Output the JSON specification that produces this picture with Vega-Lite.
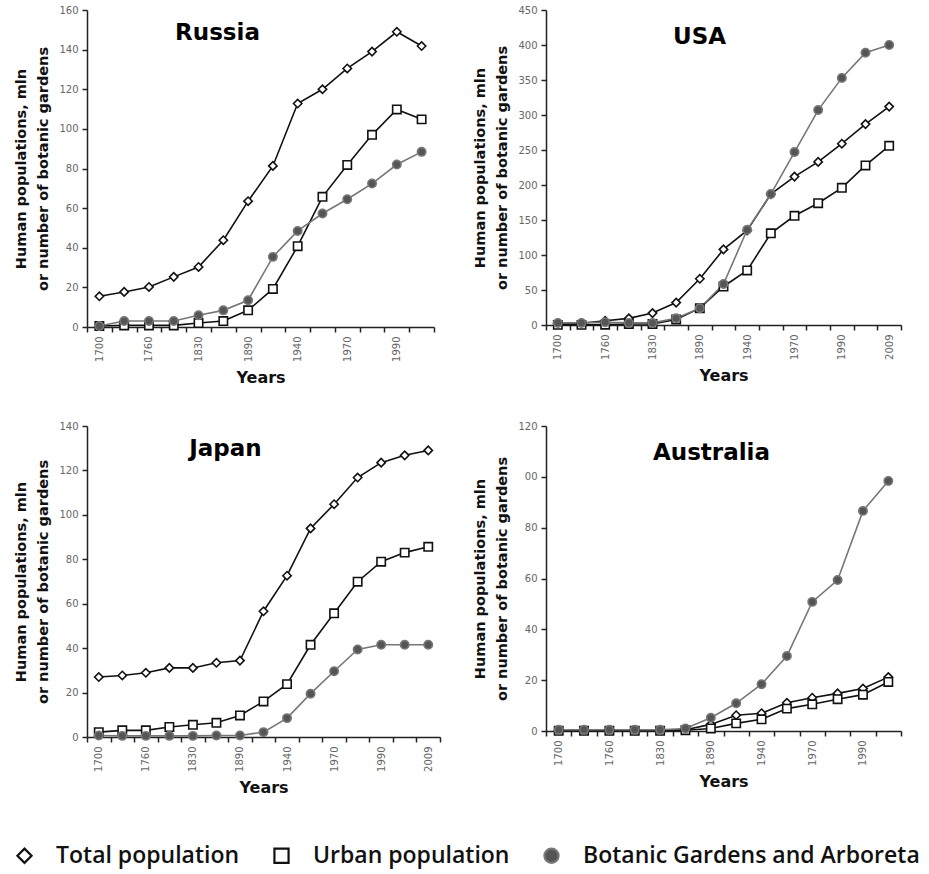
{
  "$schema": "https://vega.github.io/schema/vega-lite/v6.json",
  "background": "white",
  "padding": {"left": 13, "top": 5, "right": 0, "bottom": 10},
  "data": {"values": [
    {"country":"Russia","year":1700,"series":"Total population","value":15.5},
    {"country":"Russia","year":1730,"series":"Total population","value":17.7},
    {"country":"Russia","year":1760,"series":"Total population","value":20.2},
    {"country":"Russia","year":1800,"series":"Total population","value":25.3},
    {"country":"Russia","year":1830,"series":"Total population","value":30.3},
    {"country":"Russia","year":1860,"series":"Total population","value":43.8},
    {"country":"Russia","year":1890,"series":"Total population","value":63.5},
    {"country":"Russia","year":1920,"series":"Total population","value":81.3},
    {"country":"Russia","year":1940,"series":"Total population","value":112.8},
    {"country":"Russia","year":1960,"series":"Total population","value":120},
    {"country":"Russia","year":1970,"series":"Total population","value":130.5},
    {"country":"Russia","year":1980,"series":"Total population","value":139},
    {"country":"Russia","year":1990,"series":"Total population","value":149},
    {"country":"Russia","year":2009,"series":"Total population","value":141.8},
    {"country":"Russia","year":1700,"series":"Urban population","value":0.5},
    {"country":"Russia","year":1730,"series":"Urban population","value":0.8},
    {"country":"Russia","year":1760,"series":"Urban population","value":0.8},
    {"country":"Russia","year":1800,"series":"Urban population","value":0.8},
    {"country":"Russia","year":1830,"series":"Urban population","value":2},
    {"country":"Russia","year":1860,"series":"Urban population","value":3},
    {"country":"Russia","year":1890,"series":"Urban population","value":8.4},
    {"country":"Russia","year":1920,"series":"Urban population","value":19.2},
    {"country":"Russia","year":1940,"series":"Urban population","value":40.8},
    {"country":"Russia","year":1960,"series":"Urban population","value":65.7},
    {"country":"Russia","year":1970,"series":"Urban population","value":81.8},
    {"country":"Russia","year":1980,"series":"Urban population","value":97},
    {"country":"Russia","year":1990,"series":"Urban population","value":109.8},
    {"country":"Russia","year":2009,"series":"Urban population","value":104.8},
    {"country":"Russia","year":1700,"series":"Botanic Gardens and Arboreta","value":0.5},
    {"country":"Russia","year":1730,"series":"Botanic Gardens and Arboreta","value":3},
    {"country":"Russia","year":1760,"series":"Botanic Gardens and Arboreta","value":3},
    {"country":"Russia","year":1800,"series":"Botanic Gardens and Arboreta","value":3},
    {"country":"Russia","year":1830,"series":"Botanic Gardens and Arboreta","value":5.9},
    {"country":"Russia","year":1860,"series":"Botanic Gardens and Arboreta","value":8.4},
    {"country":"Russia","year":1890,"series":"Botanic Gardens and Arboreta","value":13.5},
    {"country":"Russia","year":1920,"series":"Botanic Gardens and Arboreta","value":35.4},
    {"country":"Russia","year":1940,"series":"Botanic Gardens and Arboreta","value":48.5},
    {"country":"Russia","year":1960,"series":"Botanic Gardens and Arboreta","value":57.3},
    {"country":"Russia","year":1970,"series":"Botanic Gardens and Arboreta","value":64.5},
    {"country":"Russia","year":1980,"series":"Botanic Gardens and Arboreta","value":72.4},
    {"country":"Russia","year":1990,"series":"Botanic Gardens and Arboreta","value":82},
    {"country":"Russia","year":2009,"series":"Botanic Gardens and Arboreta","value":88.4},

    {"country":"USA","year":1700,"series":"Total population","value":2.5},
    {"country":"USA","year":1730,"series":"Total population","value":2.5},
    {"country":"USA","year":1760,"series":"Total population","value":6},
    {"country":"USA","year":1800,"series":"Total population","value":9.5},
    {"country":"USA","year":1830,"series":"Total population","value":17},
    {"country":"USA","year":1860,"series":"Total population","value":32},
    {"country":"USA","year":1890,"series":"Total population","value":66},
    {"country":"USA","year":1920,"series":"Total population","value":108},
    {"country":"USA","year":1940,"series":"Total population","value":135},
    {"country":"USA","year":1960,"series":"Total population","value":187},
    {"country":"USA","year":1970,"series":"Total population","value":212},
    {"country":"USA","year":1980,"series":"Total population","value":233},
    {"country":"USA","year":1990,"series":"Total population","value":259},
    {"country":"USA","year":2000,"series":"Total population","value":287},
    {"country":"USA","year":2009,"series":"Total population","value":312},
    {"country":"USA","year":1700,"series":"Urban population","value":0.2},
    {"country":"USA","year":1730,"series":"Urban population","value":0.2},
    {"country":"USA","year":1760,"series":"Urban population","value":0.5},
    {"country":"USA","year":1800,"series":"Urban population","value":1.5},
    {"country":"USA","year":1830,"series":"Urban population","value":1.5},
    {"country":"USA","year":1860,"series":"Urban population","value":8},
    {"country":"USA","year":1890,"series":"Urban population","value":24},
    {"country":"USA","year":1920,"series":"Urban population","value":55},
    {"country":"USA","year":1940,"series":"Urban population","value":78},
    {"country":"USA","year":1960,"series":"Urban population","value":131},
    {"country":"USA","year":1970,"series":"Urban population","value":156},
    {"country":"USA","year":1980,"series":"Urban population","value":174},
    {"country":"USA","year":1990,"series":"Urban population","value":196},
    {"country":"USA","year":2000,"series":"Urban population","value":228},
    {"country":"USA","year":2009,"series":"Urban population","value":256},
    {"country":"USA","year":1700,"series":"Botanic Gardens and Arboreta","value":3},
    {"country":"USA","year":1730,"series":"Botanic Gardens and Arboreta","value":3},
    {"country":"USA","year":1760,"series":"Botanic Gardens and Arboreta","value":4},
    {"country":"USA","year":1800,"series":"Botanic Gardens and Arboreta","value":3},
    {"country":"USA","year":1830,"series":"Botanic Gardens and Arboreta","value":3},
    {"country":"USA","year":1860,"series":"Botanic Gardens and Arboreta","value":9.5},
    {"country":"USA","year":1890,"series":"Botanic Gardens and Arboreta","value":24},
    {"country":"USA","year":1920,"series":"Botanic Gardens and Arboreta","value":58.6},
    {"country":"USA","year":1940,"series":"Botanic Gardens and Arboreta","value":136},
    {"country":"USA","year":1960,"series":"Botanic Gardens and Arboreta","value":187},
    {"country":"USA","year":1970,"series":"Botanic Gardens and Arboreta","value":247},
    {"country":"USA","year":1980,"series":"Botanic Gardens and Arboreta","value":307},
    {"country":"USA","year":1990,"series":"Botanic Gardens and Arboreta","value":353},
    {"country":"USA","year":2000,"series":"Botanic Gardens and Arboreta","value":389},
    {"country":"USA","year":2009,"series":"Botanic Gardens and Arboreta","value":400},

    {"country":"Japan","year":1700,"series":"Total population","value":27},
    {"country":"Japan","year":1730,"series":"Total population","value":27.7},
    {"country":"Japan","year":1760,"series":"Total population","value":28.9},
    {"country":"Japan","year":1800,"series":"Total population","value":31.1},
    {"country":"Japan","year":1830,"series":"Total population","value":31.1},
    {"country":"Japan","year":1860,"series":"Total population","value":33.4},
    {"country":"Japan","year":1890,"series":"Total population","value":34.4},
    {"country":"Japan","year":1920,"series":"Total population","value":56.6},
    {"country":"Japan","year":1940,"series":"Total population","value":72.6},
    {"country":"Japan","year":1960,"series":"Total population","value":93.9},
    {"country":"Japan","year":1970,"series":"Total population","value":104.8},
    {"country":"Japan","year":1980,"series":"Total population","value":116.8},
    {"country":"Japan","year":1990,"series":"Total population","value":123.5},
    {"country":"Japan","year":2000,"series":"Total population","value":126.8},
    {"country":"Japan","year":2009,"series":"Total population","value":129},
    {"country":"Japan","year":1700,"series":"Urban population","value":2.2},
    {"country":"Japan","year":1730,"series":"Urban population","value":3},
    {"country":"Japan","year":1760,"series":"Urban population","value":3},
    {"country":"Japan","year":1800,"series":"Urban population","value":4.5},
    {"country":"Japan","year":1830,"series":"Urban population","value":5.5},
    {"country":"Japan","year":1860,"series":"Urban population","value":6.4},
    {"country":"Japan","year":1890,"series":"Urban population","value":9.7},
    {"country":"Japan","year":1920,"series":"Urban population","value":16},
    {"country":"Japan","year":1940,"series":"Urban population","value":23.8},
    {"country":"Japan","year":1960,"series":"Urban population","value":41.5},
    {"country":"Japan","year":1970,"series":"Urban population","value":55.7},
    {"country":"Japan","year":1980,"series":"Urban population","value":69.9},
    {"country":"Japan","year":1990,"series":"Urban population","value":78.9},
    {"country":"Japan","year":2000,"series":"Urban population","value":83},
    {"country":"Japan","year":2009,"series":"Urban population","value":85.6},
    {"country":"Japan","year":1700,"series":"Botanic Gardens and Arboreta","value":0.7},
    {"country":"Japan","year":1730,"series":"Botanic Gardens and Arboreta","value":0.5},
    {"country":"Japan","year":1760,"series":"Botanic Gardens and Arboreta","value":0.5},
    {"country":"Japan","year":1800,"series":"Botanic Gardens and Arboreta","value":0.5},
    {"country":"Japan","year":1830,"series":"Botanic Gardens and Arboreta","value":0.5},
    {"country":"Japan","year":1860,"series":"Botanic Gardens and Arboreta","value":0.7},
    {"country":"Japan","year":1890,"series":"Botanic Gardens and Arboreta","value":0.7},
    {"country":"Japan","year":1920,"series":"Botanic Gardens and Arboreta","value":2.2},
    {"country":"Japan","year":1940,"series":"Botanic Gardens and Arboreta","value":8.5},
    {"country":"Japan","year":1960,"series":"Botanic Gardens and Arboreta","value":19.5},
    {"country":"Japan","year":1970,"series":"Botanic Gardens and Arboreta","value":29.6},
    {"country":"Japan","year":1980,"series":"Botanic Gardens and Arboreta","value":39.4},
    {"country":"Japan","year":1990,"series":"Botanic Gardens and Arboreta","value":41.5},
    {"country":"Japan","year":2000,"series":"Botanic Gardens and Arboreta","value":41.5},
    {"country":"Japan","year":2009,"series":"Botanic Gardens and Arboreta","value":41.5},

    {"country":"Australia","year":1700,"series":"Total population","value":0.3},
    {"country":"Australia","year":1730,"series":"Total population","value":0.3},
    {"country":"Australia","year":1760,"series":"Total population","value":0.3},
    {"country":"Australia","year":1800,"series":"Total population","value":0.3},
    {"country":"Australia","year":1830,"series":"Total population","value":0.3},
    {"country":"Australia","year":1860,"series":"Total population","value":0.5},
    {"country":"Australia","year":1890,"series":"Total population","value":2.6},
    {"country":"Australia","year":1920,"series":"Total population","value":6.2},
    {"country":"Australia","year":1940,"series":"Total population","value":7},
    {"country":"Australia","year":1960,"series":"Total population","value":11.1},
    {"country":"Australia","year":1970,"series":"Total population","value":13.1},
    {"country":"Australia","year":1980,"series":"Total population","value":14.8},
    {"country":"Australia","year":1990,"series":"Total population","value":16.7},
    {"country":"Australia","year":2009,"series":"Total population","value":21.2},
    {"country":"Australia","year":1700,"series":"Urban population","value":0.1},
    {"country":"Australia","year":1730,"series":"Urban population","value":0.1},
    {"country":"Australia","year":1760,"series":"Urban population","value":0.1},
    {"country":"Australia","year":1800,"series":"Urban population","value":0.1},
    {"country":"Australia","year":1830,"series":"Urban population","value":0.1},
    {"country":"Australia","year":1860,"series":"Urban population","value":0.3},
    {"country":"Australia","year":1890,"series":"Urban population","value":1},
    {"country":"Australia","year":1920,"series":"Urban population","value":3},
    {"country":"Australia","year":1940,"series":"Urban population","value":4.6},
    {"country":"Australia","year":1960,"series":"Urban population","value":8.8},
    {"country":"Australia","year":1970,"series":"Urban population","value":10.5},
    {"country":"Australia","year":1980,"series":"Urban population","value":12.5},
    {"country":"Australia","year":1990,"series":"Urban population","value":14.3},
    {"country":"Australia","year":2009,"series":"Urban population","value":19.3},
    {"country":"Australia","year":1700,"series":"Botanic Gardens and Arboreta","value":0.5},
    {"country":"Australia","year":1730,"series":"Botanic Gardens and Arboreta","value":0.5},
    {"country":"Australia","year":1760,"series":"Botanic Gardens and Arboreta","value":0.5},
    {"country":"Australia","year":1800,"series":"Botanic Gardens and Arboreta","value":0.5},
    {"country":"Australia","year":1830,"series":"Botanic Gardens and Arboreta","value":0.5},
    {"country":"Australia","year":1860,"series":"Botanic Gardens and Arboreta","value":1},
    {"country":"Australia","year":1890,"series":"Botanic Gardens and Arboreta","value":5.2},
    {"country":"Australia","year":1920,"series":"Botanic Gardens and Arboreta","value":10.9},
    {"country":"Australia","year":1940,"series":"Botanic Gardens and Arboreta","value":18.4},
    {"country":"Australia","year":1960,"series":"Botanic Gardens and Arboreta","value":29.5},
    {"country":"Australia","year":1970,"series":"Botanic Gardens and Arboreta","value":50.8},
    {"country":"Australia","year":1980,"series":"Botanic Gardens and Arboreta","value":59.4},
    {"country":"Australia","year":1990,"series":"Botanic Gardens and Arboreta","value":86.6},
    {"country":"Australia","year":2009,"series":"Botanic Gardens and Arboreta","value":98.4}
  ]},
  "columns": 2,
  "spacing": {"row": 35, "column": 31},
  "concat": [
    {
      "width": 347, "height": 317,
      "title": {"text": "Russia", "offset": -40, "dx": -43},
      "transform": [{"filter": "datum.country === 'Russia'"}],
      "encoding": {
        "x": {"field": "year", "type": "ordinal", "title": "Years",
              "scale": {"type": "band", "paddingInner": 0, "paddingOuter": 0},
              "axis": {"labelExpr": "indexof(['1700','1760','1830','1890','1940','1970','1990'], datum.label) >= 0 ? datum.label : ''"}},
        "y": {"field": "value", "type": "quantitative", "title": ["Human populations, mln", "or number of botanic gardens"],
              "scale": {"domain": [0, 160]},
              "axis": {"values": [0, 20, 40, 60, 80, 100, 120, 140, 160]}}
      },
      "layer": [
        {"mark": {"type": "line", "strokeWidth": 1.6},
         "encoding": {"stroke": {"field": "series", "type": "nominal",
            "scale": {"domain": ["Total population", "Urban population", "Botanic Gardens and Arboreta"], "range": ["#111111", "#111111", "#777777"]},
            "legend": {"orient": "none", "legendX": -74, "legendY": 834}}}},
        {"mark": {"type": "point", "filled": true, "size": 70, "strokeWidth": 1.6, "opacity": 1},
         "encoding": {"stroke": {"field": "series", "type": "nominal"},
                      "fill": {"field": "series", "type": "nominal", "legend": null,
                               "scale": {"domain": ["Total population", "Urban population", "Botanic Gardens and Arboreta"], "range": ["white", "white", "#555555"]}},
                      "shape": {"field": "series", "type": "nominal", "legend": null,
                               "scale": {"domain": ["Total population", "Urban population", "Botanic Gardens and Arboreta"], "range": ["diamond", "square", "circle"]}}}}
      ]
    },
    {
      "width": 355, "height": 315,
      "title": {"text": "USA", "offset": -44, "dx": -24},
      "transform": [{"filter": "datum.country === 'USA'"}],
      "encoding": {
        "x": {"field": "year", "type": "ordinal", "title": "Years",
              "scale": {"type": "band", "paddingInner": 0, "paddingOuter": 0},
              "axis": {"labelExpr": "indexof(['1700','1760','1830','1890','1940','1970','1990','2009'], datum.label) >= 0 ? datum.label : ''"}},
        "y": {"field": "value", "type": "quantitative", "title": ["Human populations, mln", "or number of botanic gardens"],
              "scale": {"domain": [0, 450]},
              "axis": {"values": [0, 50, 100, 150, 200, 250, 300, 350, 400, 450]}}
      },
      "layer": [
        {"mark": {"type": "line", "strokeWidth": 1.6},
         "encoding": {"stroke": {"field": "series", "type": "nominal"}}},
        {"mark": {"type": "point", "filled": true, "size": 70, "strokeWidth": 1.6, "opacity": 1},
         "encoding": {"stroke": {"field": "series", "type": "nominal"},
                      "fill": {"field": "series", "type": "nominal", "legend": null},
                      "shape": {"field": "series", "type": "nominal", "legend": null}}}
      ]
    },
    {
      "width": 353, "height": 311,
      "title": {"text": "Japan", "offset": -40, "dx": -38},
      "transform": [{"filter": "datum.country === 'Japan'"}],
      "encoding": {
        "x": {"field": "year", "type": "ordinal", "title": "Years",
              "scale": {"type": "band", "paddingInner": 0, "paddingOuter": 0},
              "axis": {"labelExpr": "indexof(['1700','1760','1830','1890','1940','1970','1990','2009'], datum.label) >= 0 ? datum.label : ''"}},
        "y": {"field": "value", "type": "quantitative", "title": ["Human populations, mln", "or number of botanic gardens"],
              "scale": {"domain": [0, 140]},
              "axis": {"values": [0, 20, 40, 60, 80, 100, 120, 140]}}
      },
      "layer": [
        {"mark": {"type": "line", "strokeWidth": 1.6},
         "encoding": {"stroke": {"field": "series", "type": "nominal"}}},
        {"mark": {"type": "point", "filled": true, "size": 70, "strokeWidth": 1.6, "opacity": 1},
         "encoding": {"stroke": {"field": "series", "type": "nominal"},
                      "fill": {"field": "series", "type": "nominal", "legend": null},
                      "shape": {"field": "series", "type": "nominal", "legend": null}}}
      ]
    },
    {
      "width": 355, "height": 305,
      "title": {"text": "Australia", "offset": -44, "dx": -12},
      "transform": [{"filter": "datum.country === 'Australia'"}],
      "encoding": {
        "x": {"field": "year", "type": "ordinal", "title": "Years",
              "scale": {"type": "band", "paddingInner": 0, "paddingOuter": 0},
              "axis": {"labelExpr": "indexof(['1700','1760','1830','1890','1940','1970','1990'], datum.label) >= 0 ? datum.label : ''"}},
        "y": {"field": "value", "type": "quantitative", "title": ["Human populations, mln", "or number of botanic gardens"],
              "scale": {"domain": [0, 120]},
              "axis": {"values": [0, 20, 40, 60, 80, 100, 120], "labelExpr": "datum.value === 100 ? '00' : datum.label"}}
      },
      "layer": [
        {"mark": {"type": "line", "strokeWidth": 1.6},
         "encoding": {"stroke": {"field": "series", "type": "nominal"}}},
        {"mark": {"type": "point", "filled": true, "size": 70, "strokeWidth": 1.6, "opacity": 1},
         "encoding": {"stroke": {"field": "series", "type": "nominal"},
                      "fill": {"field": "series", "type": "nominal", "legend": null},
                      "shape": {"field": "series", "type": "nominal", "legend": null}}}
      ]
    }
  ],
  "resolve": {"scale": {"x": "independent", "y": "independent"}},
  "config": {
    "view": {"stroke": null},
    "title": {"font": "DejaVu Sans", "fontSize": 23, "fontWeight": "bold", "color": "#000", "anchor": "middle", "baseline": "middle"},
    "axis": {"grid": false, "domainColor": "#222", "domainWidth": 1.5, "tickColor": "#222", "tickWidth": 1.5, "tickSize": 5,
             "labelColor": "#666", "labelFont": "DejaVu Sans", "labelFontSize": 10,
             "titleFont": "DejaVu Sans", "titleFontWeight": "bold", "titleColor": "#111"},
    "axisX": {"tickBand": "extent", "labelAngle": -90, "labelPadding": 4, "titleFontSize": 16, "titlePadding": 8},
    "axisY": {"titleFontSize": 14.5, "titleLineHeight": 22, "titlePadding": 8, "labelPadding": 4},
    "legend": {"direction": "horizontal", "title": null,
               "labelFont": "Open Sans", "labelFontSize": 23, "labelFontWeight": 600, "labelColor": "#111",
               "symbolSize": 200, "symbolStrokeWidth": 2.2, "columnPadding": 30, "labelOffset": 20,
               "labelLimit": 400}
  }
}
